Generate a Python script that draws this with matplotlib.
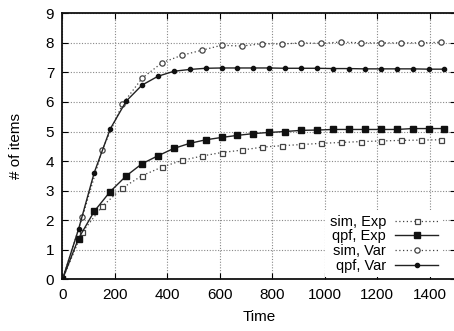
import matplotlib
matplotlib.use("Agg")
import matplotlib.pyplot as plt

# qpf series (time step ~60.7)
t_qpf = [0, 61, 121, 182, 243, 303, 364, 425, 485, 546, 607, 667, 728, 789, 849,
         910, 971, 1031, 1092, 1153, 1214, 1274, 1335, 1396, 1456]
qpf_exp = [0, 1.38, 2.30, 2.97, 3.50, 3.91, 4.18, 4.43, 4.60, 4.72, 4.80, 4.87, 4.93,
           4.97, 5.00, 5.04, 5.05, 5.07, 5.07, 5.07, 5.07, 5.07, 5.10, 5.10, 5.10]
qpf_var = [0, 1.69, 3.61, 5.09, 6.03, 6.57, 6.87, 7.04, 7.10, 7.14, 7.15, 7.15, 7.15,
           7.15, 7.14, 7.14, 7.14, 7.13, 7.13, 7.12, 7.12, 7.12, 7.12, 7.11, 7.11]

# sim series (time step ~75.8)
t_sim = [0, 76, 152, 228, 304, 380, 455, 531, 607, 683, 759, 835, 911, 986, 1062,
         1138, 1214, 1290, 1366, 1441]
sim_exp = [0, 1.60, 2.47, 3.09, 3.51, 3.80, 4.02, 4.17, 4.29, 4.37, 4.47, 4.52, 4.56,
           4.60, 4.63, 4.66, 4.68, 4.70, 4.71, 4.72]
sim_var = [0, 2.11, 4.39, 5.92, 6.81, 7.33, 7.58, 7.75, 7.92, 7.89, 7.97, 7.96, 8.00,
           7.98, 8.03, 8.00, 8.00, 8.00, 8.00, 8.02]

x_ticks = [0, 200, 400, 600, 800, 1000, 1200, 1400]
y_ticks = [0, 1, 2, 3, 4, 5, 6, 7, 8, 9]

plt.rcParams['font.family'] = ['Liberation Sans', 'DejaVu Sans']

fig = plt.figure(figsize=(4.54, 3.31), dpi=100)
ax = fig.add_axes([62.5 / 454, 51.7 / 331, (456 - 62.5) / 454, (279.3 - 13.3) / 331])

dark = '#222222'
ax.plot(t_sim, sim_exp, linestyle=(0, (1, 2)), color='#444444', lw=0.9,
        marker='s', markersize=3.6, markerfacecolor='white', markeredgecolor='#444444',
        markeredgewidth=0.9, label='sim, Exp', zorder=3)
ax.plot(t_qpf, qpf_exp, linestyle='-', color=dark, lw=1.0,
        marker='s', markersize=5, markerfacecolor='#111111', markeredgecolor='#111111',
        label='qpf, Exp', zorder=4)
ax.plot(t_sim, sim_var, linestyle=(0, (1, 2)), color='#444444', lw=0.9,
        marker='o', markersize=3.8, markerfacecolor='white', markeredgecolor='#444444',
        markeredgewidth=0.9, label='sim, Var', zorder=3)
ax.plot(t_qpf, qpf_var, linestyle='-', color=dark, lw=1.0,
        marker='o', markersize=3.0, markerfacecolor='#111111', markeredgecolor='#111111',
        label='qpf, Var', zorder=4)

ax.set_xlim(0, 1500)
ax.set_ylim(0, 9)
ax.set_xticks(x_ticks)
ax.set_yticks(y_ticks)
ax.tick_params(direction='in', top=True, right=True, labelsize=11, length=4,
               width=0.8, pad=6)
ax.grid(True, linestyle=(0, (1, 1.5)), color='#888888', lw=0.8)
for s in ax.spines.values():
    s.set_linewidth(1.3)
    s.set_color('#111111')

ax.set_xlabel('Time', fontsize=11, labelpad=6)
ax.set_ylabel('# of items', fontsize=11, labelpad=16)

leg = ax.legend(loc='lower right', bbox_to_anchor=(0.985, -0.02), frameon=True,
                fontsize=10.5, markerfirst=False, handlelength=3.0,
                labelspacing=0.05, borderpad=0.3, handletextpad=0.6,
                fancybox=False, edgecolor='white', framealpha=1.0)
for t in leg.get_texts():
    t.set_ha('right')
leg.get_frame().set_linewidth(0)

fig.savefig('out.png', dpi=100)
